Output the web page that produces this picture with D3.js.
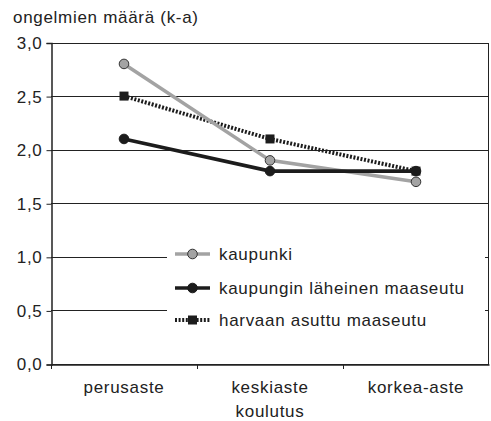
<!DOCTYPE html>
<html>
<head>
<meta charset="utf-8">
<script src="https://cdn.jsdelivr.net/npm/d3@7"></script>
<style>
  body { margin: 0; background: #fff; }
  text { font-family: "Liberation Sans", Arial, sans-serif; fill: #222; letter-spacing: 0.7px; }
</style>
</head>
<body>
<div id="chart"></div>
<script>
const categories = ['perusaste', 'keskiaste', 'korkea-aste']
const seriesNames = ['kaupunki', 'kaupungin läheinen maaseutu', 'harvaan asuttu maaseutu']
const kaupunki = [2.8, 1.9, 1.7]
const lahiMaaseutu = [2.1, 1.8, 1.8]
const harvaMaaseutu = [2.5, 2.1, 1.8]
const yTicks = [0, 0.5, 1, 1.5, 2, 2.5, 3]

const width = 491, height = 421
const margin = { top: 42.5, right: 2, bottom: 57, left: 51 }
const fontSize = 17

const svg = d3.select('#chart').append('svg')
    .attr('width', width)
    .attr('height', height)

const x = d3.scaleBand()
    .domain(categories)
    .range([margin.left, width - margin.right])

const y = d3.scaleLinear()
    .domain([0, 3])
    .range([height - margin.bottom, margin.top])

const fmt = d => d3.format('.1f')(d).replace('.', ',')

// grid lines
svg.append('g')
    .selectAll('line')
    .data(yTicks)
    .join('line')
    .attr('x1', margin.left)
    .attr('x2', width - margin.right)
    .attr('y1', d => Math.round(y(d)) + 0.5)
    .attr('y2', d => Math.round(y(d)) + 0.5)
    .attr('stroke', '#222')
    .attr('stroke-width', 1)

// right border
svg.append('line')
    .attr('x1', width - margin.right - 0.5)
    .attr('x2', width - margin.right - 0.5)
    .attr('y1', Math.round(y(3)) + 0.5)
    .attr('y2', Math.round(y(0)) + 0.5)
    .attr('stroke', '#222')

// y axis
const yAxis = svg.append('g')
    .attr('transform', `translate(${margin.left + 0.5},0.5)`)
    .call(d3.axisLeft(y).tickValues(yTicks).tickFormat(fmt).tickSize(5).tickPadding(4))
yAxis.select('.domain').attr('stroke', '#222').attr('stroke-width', 1.5)
yAxis.selectAll('.tick line').attr('stroke', '#222')
yAxis.selectAll('.tick text')
    .attr('font-size', fontSize)
    .attr('font-family', '"Liberation Sans", Arial, sans-serif')
    .attr('fill', '#222')

// x axis
const xAxis = svg.append('g')
    .attr('transform', `translate(0,${Math.round(y(0)) + 0.5})`)
    .call(d3.axisBottom(x).tickSize(0).tickPadding(16))
xAxis.select('.domain').attr('stroke', '#222').attr('stroke-width', 1.5)
xAxis.selectAll('.tick text')
    .attr('font-size', fontSize)
    .attr('font-family', '"Liberation Sans", Arial, sans-serif')
    .attr('fill', '#222')

// band ticks between categories
svg.append('g')
    .selectAll('line')
    .data(categories)
    .join('line')
    .attr('x1', d => Math.round(x(d)) + 0.5)
    .attr('x2', d => Math.round(x(d)) + 0.5)
    .attr('y1', y(0))
    .attr('y2', y(0) + 5)
    .attr('stroke', '#222')

svg.append('text')
    .attr('x', (margin.left + width - margin.right) / 2)
    .attr('y', 417)
    .attr('text-anchor', 'middle')
    .attr('font-size', fontSize)
    .text('koulutus')

svg.append('text')
    .attr('x', 13)
    .attr('y', 23)
    .attr('font-size', fontSize)
    .text('ongelmien määrä (k-a)')

const series = [
    { name: seriesNames[0], values: kaupunki, color: '#a3a3a3', dash: null, marker: 'circle', fill: '#a3a3a3', edge: '#333' },
    { name: seriesNames[1], values: lahiMaaseutu, color: '#1c1c1c', dash: null, marker: 'circle', fill: '#1c1c1c', edge: '#1c1c1c' },
    { name: seriesNames[2], values: harvaMaaseutu, color: '#1c1c1c', dash: '2,1.6', marker: 'square', fill: '#1c1c1c', edge: '#1c1c1c' }
]

const cx = c => x(c) + x.bandwidth() / 2
const line = d3.line()
    .x((d, i) => cx(categories[i]))
    .y(d => y(d))

function drawMarker(g, s, px, py) {
    if (s.marker === 'circle') {
        g.append('circle')
            .attr('cx', px).attr('cy', py).attr('r', 4.8)
            .attr('fill', s.fill)
            .attr('stroke', s.edge)
            .attr('stroke-width', 1)
    } else {
        g.append('rect')
            .attr('x', px - 4.5).attr('y', py - 4.5)
            .attr('width', 9).attr('height', 9)
            .attr('fill', s.fill)
    }
}

// harvaan first, kaupunki over it, läheinen on top
const order = [2, 0, 1]
order.forEach(k => {
    const s = series[k]
    const g = svg.append('g')
    g.append('path')
        .datum(s.values)
        .attr('d', line)
        .attr('fill', 'none')
        .attr('stroke', s.color)
        .attr('stroke-width', k === 2 ? 4 : 3.6)
        .attr('stroke-dasharray', s.dash)
    s.values.forEach((v, i) => drawMarker(g, s, cx(categories[i]), y(v)))
})

// legend
const legend = svg.append('g')
legend.append('rect')
    .attr('x', 167).attr('y', 236)
    .attr('width', 318).attr('height', 110)
    .attr('fill', '#fff')

const legendY = [254, 288, 320]
series.forEach((s, i) => {
    const g = legend.append('g')
    g.append('line')
        .attr('x1', 175).attr('x2', 210)
        .attr('y1', legendY[i]).attr('y2', legendY[i])
        .attr('stroke', s.color)
        .attr('stroke-width', i === 2 ? 4 : 3.6)
        .attr('stroke-dasharray', s.dash)
    drawMarker(g, s, 192.5, legendY[i])
    g.append('text')
        .attr('x', 219)
        .attr('y', legendY[i] + 6)
        .attr('font-size', fontSize)
        .text(s.name)
})
</script>
</body>
</html>
